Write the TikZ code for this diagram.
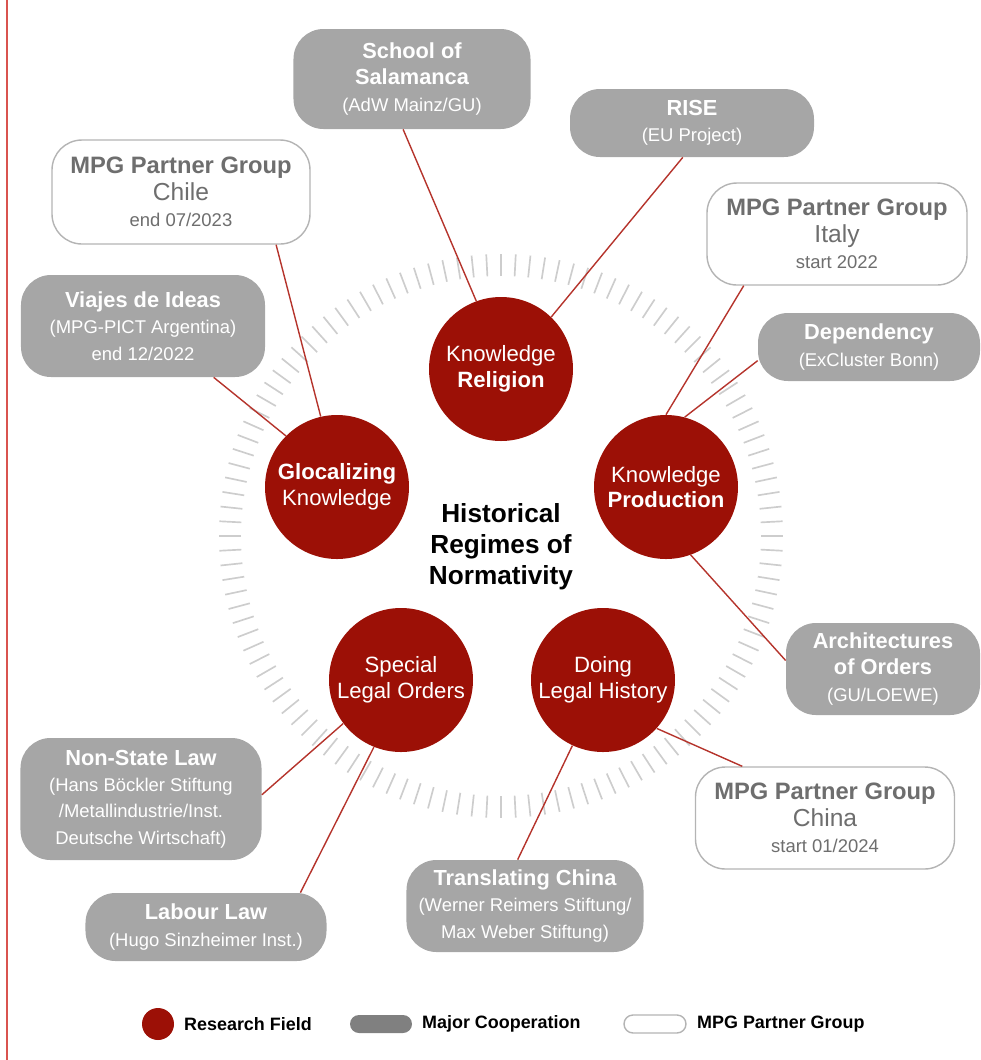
\documentclass[tikz,border=0pt]{standalone}
\usepackage{fontspec}
\setmainfont{Liberation Sans}
\usepackage{xcolor}
\usepackage{tikz}

\definecolor{fieldred}{HTML}{9C1006}
\definecolor{linkred}{HTML}{B5342C}
\definecolor{marginred}{HTML}{D9534F}
\definecolor{coopgray}{HTML}{A6A6A6}
\definecolor{legendgray}{HTML}{808080}
\definecolor{pgborder}{HTML}{B4B4B4}
\definecolor{pgtext}{HTML}{6E6E6E}
\definecolor{tickgray}{HTML}{CDCDCD}

% text sizes inside the boxes
\newcommand{\boxtitle}[1]{{\fontsize{12.4}{15}\selectfont\bfseries #1}}
\newcommand{\pgtitle}[1]{{\fontsize{13.5}{15}\selectfont\bfseries #1}}
\newcommand{\pgplace}[1]{{\fontsize{14}{15}\selectfont #1}}

\tikzset{
  field/.style={circle, fill=fieldred, text=white, minimum size=2.88cm,
    inner sep=0pt, align=center, font=\fontsize{12.6}{14.7}\selectfont},
  coop/.style={rounded corners=0.6cm, fill=coopgray, text=white,
    inner sep=0pt, align=center, font=\fontsize{10.5}{15}\selectfont},
  partner/.style={rounded corners=0.6cm, draw=pgborder, line width=0.8pt,
    fill=white, text=pgtext, inner sep=0pt, align=center,
    font=\fontsize{10.5}{15}\selectfont},
  link/.style={linkred, line width=0.8pt},
  ringtick/.style={tickgray, line width=0.95pt},
  legendtxt/.style={anchor=west, font=\fontsize{10.2}{12}\selectfont\bfseries},
}

\begin{document}
\begin{tikzpicture}[x=0.2mm, y=-0.2mm]

  \useasboundingbox (0,0) rectangle (981,1060);
  \draw[marginred, line width=0.9pt] (7,0) -- (7,1060);

  % -- tick ring round the centre ------------------------------------------
  \coordinate (ring) at (501,536);
  \foreach \a in {0,3,...,357}
    \draw[ringtick] ([shift={(\a:260)}]ring) -- ([shift={(\a:282)}]ring);

  % -- research fields -----------------------------------------------------
  \node[field] (rel)     at (501,369) {Knowledge\\\textbf{Religion}};
  \node[field] (glocal)  at (337,487) {\textbf{Glocalizing}\\Knowledge};
  \node[field] (prod)    at (666,487) {Knowledge\\\textbf{Production}};
  \node[field] (special) at (401,680) {Special\\Legal Orders};
  \node[field] (doing)   at (603,680) {Doing\\Legal History};

  \node[align=center, font=\fontsize{14.9}{17.6}\selectfont\bfseries]
    (regimes) at (501,547) {Historical\\Regimes of\\Normativity};

  % -- major cooperations --------------------------------------------------
  \node[coop, minimum width=4.74cm, minimum height=2cm] (sala) at (412,79)
    {\boxtitle{School of}\\\boxtitle{Salamanca}\\(AdW Mainz/GU)};
  \node[coop, minimum width=4.88cm, minimum height=1.36cm] (rise) at (692,123)
    {\boxtitle{RISE}\\(EU Project)};
  \node[coop, minimum width=4.88cm, minimum height=2.04cm] (viajes) at (143,326)
    {\boxtitle{Viajes de Ideas}\\(MPG-PICT Argentina)\\end 12/2022};
  \node[coop, minimum width=4.44cm, minimum height=1.36cm] (depend) at (869,347)
    {\boxtitle{Dependency}\\(ExCluster Bonn)};
  \node[coop, minimum width=3.88cm, minimum height=1.84cm] (arch) at (883,669)
    {\boxtitle{Architectures}\\\boxtitle{of Orders}\\(GU/LOEWE)};
  \node[coop, minimum width=4.74cm, minimum height=1.84cm] (transl) at (525,906)
    {\boxtitle{Translating China}\\(Werner Reimers Stiftung/\\Max Weber Stiftung)};
  \node[coop, minimum width=4.82cm, minimum height=1.36cm] (labour) at (206,927)
    {\boxtitle{Labour Law}\\(Hugo Sinzheimer Inst.)};
  \node[coop, minimum width=4.82cm, minimum height=2.44cm] (nonstate) at (141,799)
    {\boxtitle{Non-State Law}\\(Hans Böckler Stiftung\\/Metallindustrie/Inst.\\Deutsche Wirtschaft)};

  % -- partner groups ------------------------------------------------------
  \node[partner, minimum width=5.16cm, minimum height=2.08cm] (chile) at (181,192)
    {\pgtitle{MPG Partner Group}\\\pgplace{Chile}\\end 07/2023};
  \node[partner, minimum width=5.2cm, minimum height=2.04cm] (italy) at (837,234)
    {\pgtitle{MPG Partner Group}\\\pgplace{Italy}\\start 2022};
  \node[partner, minimum width=5.18cm, minimum height=2.04cm] (chinapg) at (825,818)
    {\pgtitle{MPG Partner Group}\\\pgplace{China}\\start 01/2024};

  % -- links ---------------------------------------------------------------
  \draw[link] (sala.-100)    -- (rel.110);
  \draw[link] (rise.-105)    -- (rel.46);
  \draw[link] (chile.-29)    -- (glocal.103);
  \draw[link] (viajes.-36)   -- (glocal.135);
  \draw[link] (italy.-151)   -- (prod.north);
  \draw[link] (depend.-173)  -- (prod.75);
  \draw[link] (prod.-70)     -- (arch.175);
  \draw[link] (doing.-42)    -- (chinapg.148);
  \draw[link] (doing.-115)   -- (transl.99);
  \draw[link] (special.-143) -- (nonstate.2);
  \draw[link] (special.-112) -- (labour.20);

  % -- legend --------------------------------------------------------------
  \node[field, minimum size=0.64cm] (lgfield) at (158,1024) {};
  \node[legendtxt] (lgfieldtxt) at (178,1024) {Research Field};
  \node[rounded corners=0.18cm, fill=legendgray, minimum width=1.24cm,
    minimum height=0.36cm, inner sep=0pt] (lgcoop) at (381,1024) {};
  \node[legendtxt] (lgcooptxt) at (416,1024) {Major Cooperation};
  \node[partner, rounded corners=0.18cm, minimum width=1.24cm,
    minimum height=0.36cm] (lgpartner) at (655,1024) {};
  \node[legendtxt] (lgpartnertxt) at (691,1024) {MPG Partner Group};

\end{tikzpicture}
\end{document}
